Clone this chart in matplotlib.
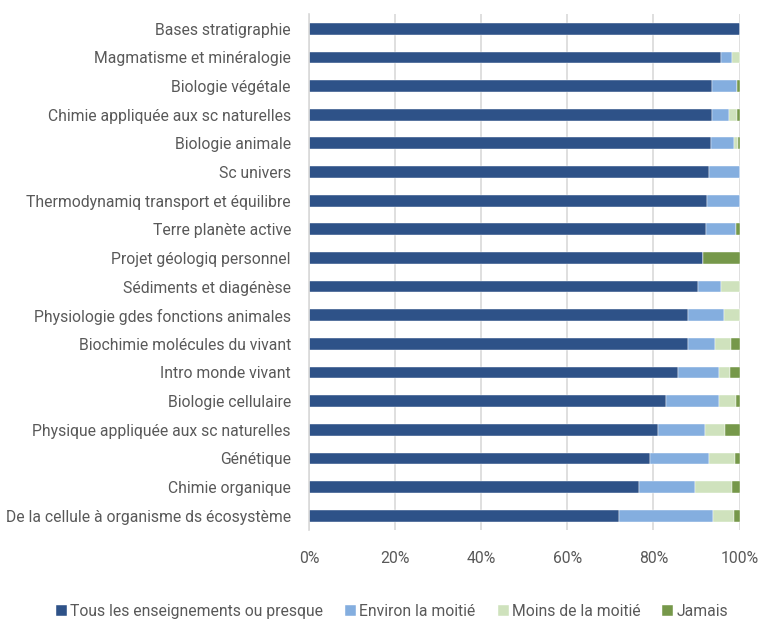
import numpy as np
import matplotlib.pyplot as plt

# Matières (de haut en bas)
matieres = [
    "Bases stratigraphie",
    "Magmatisme et minéralogie",
    "Biologie végétale",
    "Chimie appliquée aux sc naturelles",
    "Biologie animale",
    "Sc univers",
    "Thermodynamiq transport et équilibre",
    "Terre planète active",
    "Projet géologiq personnel",
    "Sédiments et diagénèse",
    "Physiologie gdes fonctions animales",
    "Biochimie molécules du vivant",
    "Intro monde vivant",
    "Biologie cellulaire",
    "Physique appliquée aux sc naturelles",
    "Génétique",
    "Chimie organique",
    "De la cellule à organisme ds écosystème",
]

# Parts en %
tous = [100.0, 95.8, 93.6, 93.6, 93.4, 92.9, 92.5, 92.1, 91.4, 90.4, 88.1, 88.1, 85.7, 83.0, 81.1, 79.2, 76.7, 72.0]
moitie = [0.0, 2.5, 5.9, 4.0, 5.4, 7.1, 7.5, 7.1, 0.0, 5.2, 8.3, 6.3, 9.6, 12.3, 10.8, 13.6, 13.0, 21.9]
moins = [0.0, 1.7, 0.0, 1.9, 0.8, 0.0, 0.0, 0.0, 0.0, 4.4, 3.6, 3.7, 2.4, 3.9, 4.7, 6.2, 8.6, 4.9]
jamais = [0.0, 0.0, 0.5, 0.5, 0.4, 0.0, 0.0, 0.8, 8.6, 0.0, 0.0, 1.9, 2.3, 0.8, 3.4, 1.0, 1.7, 1.2]

series = [
    ("Tous les enseignements ou presque", tous, "#2e5288"),
    ("Environ la moitié", moitie, "#84aedf"),
    ("Moins de la moitié", moins, "#cfe2bd"),
    ("Jamais", jamais, "#76984a"),
]

plt.rcParams['font.family'] = ['Roboto', 'DejaVu Sans']
gris = "#595959"
taille = 11.3

fig = plt.figure(figsize=(7.6, 6.24), dpi=100)
ax = fig.add_axes([0.4066, 0.1506, 0.5665, 0.8262])

y = np.arange(len(matieres))
gauche = np.zeros(len(matieres))
for nom, vals, couleur in series:
    vals = np.array(vals)
    ax.barh(y, vals, left=gauche, height=0.41, color=couleur, label=nom,
            edgecolor="white", linewidth=0.3)
    gauche += vals

ax.set_ylim(len(matieres) - 0.5, -0.5)
ax.set_xlim(0, 100)
ax.set_xticks([0, 20, 40, 60, 80, 100])
ax.set_xticklabels(["0%", "20%", "40%", "60%", "80%", "100%"])
ax.set_yticks(y)
ax.set_yticklabels(matieres)
ax.tick_params(axis="both", length=0, colors=gris, labelsize=taille)
ax.tick_params(axis="x", pad=15)
ax.tick_params(axis="y", pad=13)

ax.grid(axis="x", color="#d9d9d9", linewidth=1.2)
ax.set_axisbelow(True)
for s in ["top", "right", "bottom"]:
    ax.spines[s].set_visible(False)
ax.spines["left"].set_color("#d9d9d9")
ax.spines["left"].set_linewidth(1.2)

fig.legend(loc="center", bbox_to_anchor=(0.516, 0.02), ncol=4, frameon=False,
           fontsize=taille, labelcolor=gris, handlelength=0.7, handleheight=0.7,
           handletextpad=0.2, columnspacing=1.4)

fig.savefig("out.png", dpi=100)
